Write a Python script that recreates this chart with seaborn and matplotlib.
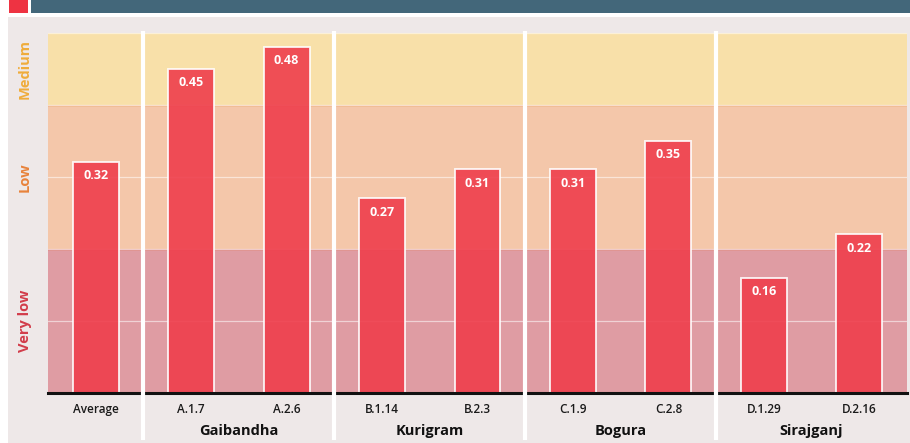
import matplotlib
matplotlib.use("Agg")
import matplotlib.pyplot as plt
import matplotlib.transforms as mtransforms
from matplotlib.patches import Rectangle
import seaborn as sns
import pandas as pd

# Sample codes and their scores
sites = ["Average", "A.1.7", "A.2.6", "B.1.14", "B.2.3", "C.1.9", "C.2.8", "D.1.29", "D.2.16"]
scores = [0.32, 0.45, 0.48, 0.27, 0.31, 0.31, 0.35, 0.16, 0.22]

# District groups: name and the index range of sites they cover
districts = ["Gaibandha", "Kurigram", "Bogura", "Sirajganj"]
district_spans = [(1, 2), (3, 4), (5, 6), (7, 8)]

# Score bands
band_names = ["Very low", "Low", "Medium"]
band_limits = [(0.0, 0.2), (0.2, 0.4), (0.4, 0.5)]
band_fill = ["#DF9CA3", "#F4C7AA", "#F8E0A9"]
band_edge = ["#DE8C86", "#F0B58A", "#F8E0A9"]
band_text = ["#D23C4A", "#E8823A", "#F0AC3A"]

sns.set_theme(style="white")
plt.rcParams["font.family"] = ["Open Sans", "DejaVu Sans"]

W, H = 910, 443
fig = plt.figure(figsize=(W / 100, H / 100), dpi=100)
fig.patch.set_facecolor("white")

def fx(px):
    return px / W

def fy(py):
    return 1 - py / H

# Header strip and grey panel
fig.patches.append(Rectangle((fx(8), 0), fx(902), fy(17), transform=fig.transFigure,
                             facecolor="#EEE8E8", edgecolor="none", zorder=-2))
fig.patches.append(Rectangle((fx(31), fy(13)), fx(879), 13 / H, transform=fig.transFigure,
                             facecolor="#43677A", edgecolor="none", zorder=-2))
fig.patches.append(Rectangle((fx(9), fy(13)), fx(19), 13 / H, transform=fig.transFigure,
                             facecolor="#EE3342", edgecolor="none", zorder=-2))

top_px, base_px = 32.5, 393
ax = fig.add_axes([fx(48), fy(base_px), fx(907 - 48), (base_px - top_px) / H])
ax.set_facecolor("none")

for (lo, hi), fc, ec in zip(band_limits, band_fill, band_edge):
    ax.axhspan(lo, hi, facecolor=fc, edgecolor="none", zorder=0)
    if hi < 0.5:
        ax.axhline(hi - 0.002, color=ec, lw=1.2, zorder=0.5)

for g in [0.1, 0.2, 0.3, 0.4, 0.5]:
    ax.axhline(g, color="white", lw=0.9, alpha=0.55, zorder=0.6)

df = pd.DataFrame({"site": sites, "score": scores})
sns.barplot(data=df, x="site", y="score", order=sites, color="#EF3E4C", alpha=0.9,
            width=0.48, edgecolor="white", linewidth=1.3, saturation=1, ax=ax, zorder=2)

for i, v in enumerate(scores):
    ax.text(i, v - 0.019, f"{v:.2f}", ha="center", va="center", color="white",
            fontsize=9, fontweight="bold", zorder=3)

ax.set_xlim(-0.5, len(sites) - 0.5)
ax.set_ylim(0, 0.5)
ax.set_yticks([])
ax.set_xlabel("")
ax.set_ylabel("")
for s in ["top", "left", "right"]:
    ax.spines[s].set_visible(False)
ax.spines["bottom"].set_color("#111111")
ax.spines["bottom"].set_linewidth(2.2)
ax.tick_params(axis="x", length=0, pad=7, labelsize=8.5, labelcolor="#1A1A1A")
for lbl in ax.get_xticklabels():
    lbl.set_fontweight("semibold")

# Group separators and district names
trans = mtransforms.blended_transform_factory(ax.transData, ax.transAxes)
bottom_ax = (base_px - 440) / (base_px - top_px)
for x in [0.5, 2.5, 4.5, 6.5]:
    ax.plot([x, x], [bottom_ax, 1.004], transform=trans, color="white", lw=3,
            clip_on=False, zorder=5, solid_capstyle="butt")

label_ax = (base_px - 431) / (base_px - top_px)
for name, (a, b) in zip(districts, district_spans):
    ax.text((a + b) / 2, label_ax, name, transform=trans, ha="center", va="center",
            fontsize=10.5, fontweight="bold", color="#111111")

# Band labels on the left
for name, (lo, hi), c in zip(band_names, band_limits, band_text):
    yc = fy(base_px - (lo + hi) / 2 * (base_px - top_px) / 0.5)
    fig.text(fx(25), yc, name, rotation=90, ha="center", va="center",
             fontsize=10.5, fontweight="bold", color=c)

fig.savefig("out.png", dpi=100)
